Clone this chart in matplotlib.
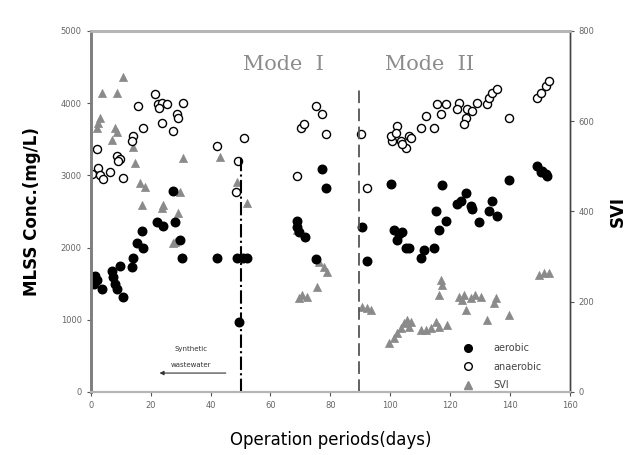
import matplotlib
matplotlib.use("Agg")
import matplotlib.pyplot as plt
from matplotlib.lines import Line2D

# aerobic MLSS (filled circles)
aer_day = [0.5, 1.3, 2, 1, 3.7, 7, 7.3, 8, 8.7, 9.7, 10.7, 13.7, 14, 15.3, 17.3, 17,
           22, 24, 28, 27.3, 29.7, 30.3, 42.3, 48.7, 50.7, 52, 49.5, 68.7, 69, 69.7,
           71.7, 75.3, 77.3, 78.7, 90.7, 92.3, 100.3, 101.3, 102.3, 103, 104, 105.3,
           106.3, 110.3, 111.3, 114.7, 115.3, 116.3, 117.3, 118.7, 122.3, 123.7, 125.3,
           127, 127.3, 129.7, 133, 134, 135.7, 139.7, 149, 150.3, 150.7, 152, 152.3]
aer_mlss = [1550, 1600, 1550, 1500, 1430, 1680, 1590, 1500, 1430, 1750, 1310, 1730, 1860,
            2060, 2000, 2230, 2350, 2300, 2350, 2790, 2100, 1850, 1850, 1860, 1850, 1850,
            970, 2370, 2280, 2210, 2140, 1835, 3090, 2830, 2280, 1820, 2880, 2240, 2100,
            2190, 2210, 2000, 1990, 1850, 1960, 2000, 2510, 2240, 2860, 2370, 2610, 2650,
            2760, 2580, 2540, 2350, 2510, 2650, 2440, 2930, 3130, 3040, 3060, 3020, 2990]

# anaerobic MLSS (open circles)
ana_day = [21.3, 22.3, 23.7, 22.7, 25.3, 15.7, 30.7, 28.7, 29, 23.7, 27.3, 17.3, 14, 13.7,
           8.7, 9.7, 9, 2, 2.3, 0.3, 3, 6.3, 10.7, 4, 42.3, 49, 51.3, 48.5, 68.7, 70.3,
           71.3, 75.3, 77.3, 78.7, 90.3, 92.3, 100.7, 100.3, 102.3, 102, 103.7, 105.3,
           106.3, 107, 104, 110.3, 112, 114.7, 115.7, 118.7, 117, 123, 122.3, 125.7, 127.3,
           125.3, 124.7, 129, 132.3, 133, 134, 135.7, 139.7, 149, 150.3, 152, 153]
ana_mlss = [4130, 3990, 4000, 3930, 3990, 3960, 4000, 3850, 3800, 3730, 3620, 3660, 3550,
            3480, 3270, 3230, 3200, 3370, 3100, 3020, 3000, 3040, 2970, 2950, 3410, 3200,
            3520, 2770, 2990, 3660, 3710, 3960, 3850, 3570, 3570, 2830, 3480, 3550, 3690,
            3590, 3480, 3380, 3550, 3520, 3440, 3660, 3820, 3660, 3990, 3990, 3850, 4000,
            3920, 3920, 3890, 3800, 3710, 4000, 3990, 4070, 4140, 4200, 3800, 4070, 4140,
            4240, 4300]

# SVI (triangles, right axis)
svi_day = [10.7, 3.7, 8.7, 3, 2.3, 2, 8, 8.7, 7, 14, 14.7, 30.7, 43, 16.3, 18, 17, 24,
           23.7, 29.7, 29, 28, 27.3, 48.7, 52, 69, 76.3, 78, 79, 75.7, 69.7, 70.7, 72.3,
           90.7, 92.3, 93.7, 117, 117.3, 116.3, 149.7, 151.3, 153, 123, 124.7, 127, 128.3,
           130.3, 135.3, 134.7, 124, 125.3, 132.3, 139.7, 99.7, 101.3, 102.3, 103.7, 104.7,
           105.7, 107, 106.3, 110.3, 112, 113.7, 115.3, 116.3, 119]
svi_val = [698, 663, 663, 607, 596, 585, 585, 576, 558, 543, 507, 519, 521, 463, 454, 414,
           414, 408, 443, 397, 332, 330, 465, 419, 360, 288, 277, 266, 233, 208, 215, 211,
           188, 186, 182, 248, 237, 215, 259, 264, 264, 210, 215, 208, 215, 210, 208, 197,
           204, 182, 160, 171, 109, 120, 131, 142, 153, 160, 155, 144, 137, 137, 142, 155,
           144, 148]

x_ticks = [0, 20, 40, 60, 80, 100, 120, 140, 160]
left_ticks = [0, 1000, 2000, 3000, 4000, 5000]
right_ticks = [0, 200, 400, 600, 800]

fig = plt.figure(figsize=(6.31, 4.55), dpi=100)
ax = fig.add_axes([0.144, 0.1385, 0.759, 0.7935])
ax2 = ax.twinx()
ax.set_zorder(ax2.get_zorder() + 1)
ax.patch.set_visible(False)

tri_color = "#8a8a8a"
ax2.scatter(svi_day, svi_val, marker="^", s=34, color=tri_color, edgecolors=tri_color,
            linewidths=0.5)
ax.scatter(ana_day, ana_mlss, marker="o", s=34, facecolors="white", edgecolors="black",
           linewidths=1.0)
ax.scatter(aer_day, aer_mlss, marker="o", s=38, color="black")

# mode boundaries
ax.plot([50, 50], [0, 3270], color="black", linestyle="-.", linewidth=1.5)
ax.plot([89.5, 89.5], [0, 4190], color="#555555", linestyle=(0, (7, 3)), linewidth=1.3)

ax.text(64.5, 4540, "Mode  I", family="DejaVu Serif", fontsize=15, color="#8c8c8c",
        ha="center", va="center")
ax.text(113, 4540, "Mode  II", family="DejaVu Serif", fontsize=15, color="#8c8c8c",
        ha="center", va="center")

ax.text(33.5, 600, "Synthetic", fontsize=5, ha="center", va="center", color="#333333")
ax.text(33.5, 380, "wastewater", fontsize=5, ha="center", va="center", color="#333333")
ax.annotate("", xy=(22, 262), xytext=(46, 262),
            arrowprops=dict(arrowstyle="-|>", color="#333333", lw=0.8, mutation_scale=6))

ax.set_xlim(0, 160)
ax.set_ylim(0, 5000)
ax2.set_ylim(0, 800)
ax.set_xticks(x_ticks)
ax.set_yticks(left_ticks)
ax2.set_yticks(right_ticks)

for a in (ax, ax2):
    a.tick_params(labelsize=6, colors="#555555", length=3, width=0.8)
ax.tick_params(axis="both", labelcolor="#666666")
ax2.tick_params(axis="y", labelcolor="#666666")

for a in (ax, ax2):
    a.spines["top"].set_color("#b5b5b5")
    a.spines["top"].set_linewidth(2)
    a.spines["left"].set_color("#808080")
    a.spines["left"].set_linewidth(2)
    a.spines["bottom"].set_color("#b5b5b5")
    a.spines["bottom"].set_linewidth(1.5)
    a.spines["right"].set_color("#444444")
    a.spines["right"].set_linewidth(1)

ax.set_ylabel("MLSS Conc.(mg/L)", fontsize=12, fontweight="bold", labelpad=14)
ax2.set_ylabel("SVI", fontsize=12, fontweight="semibold", labelpad=10)
ax.set_xlabel("Operation periods(days)", fontsize=12, fontweight="medium", labelpad=15)

handles = [
    Line2D([], [], marker="o", linestyle="none", color="black", markersize=5.5),
    Line2D([], [], marker="o", linestyle="none", markerfacecolor="white",
           markeredgecolor="black", markersize=5.5),
    Line2D([], [], marker="^", linestyle="none", color=tri_color, markersize=6),
]
ax.legend(handles, ["aerobic", "anaerobic", "SVI"], loc="lower right",
          bbox_to_anchor=(0.96, -0.02), frameon=False, fontsize=7, handletextpad=1.6,
          labelspacing=0.9, labelcolor="#444444")

fig.savefig("out.png", dpi=100)
